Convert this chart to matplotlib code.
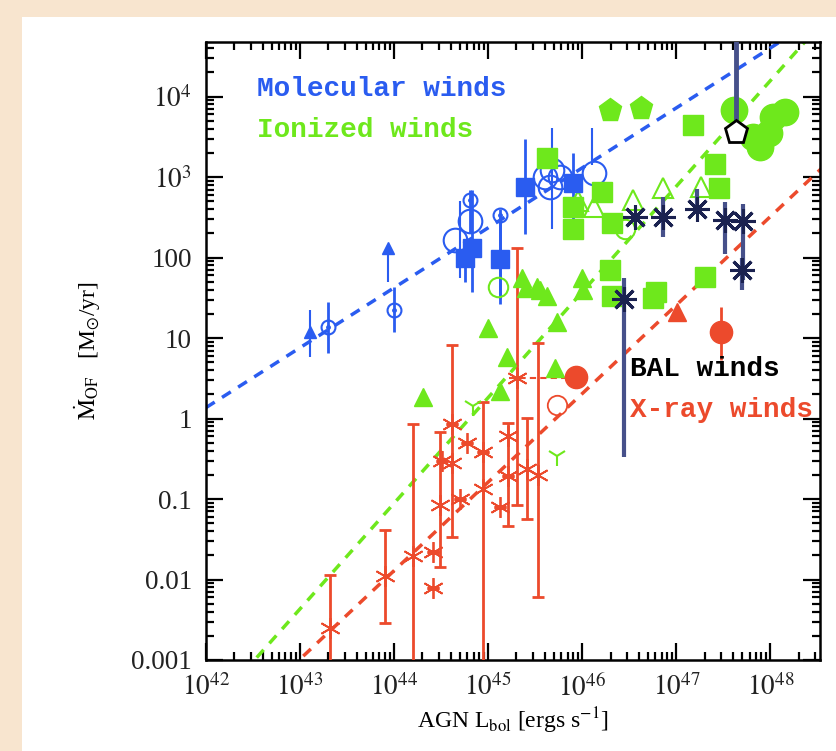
import numpy as np
import matplotlib
matplotlib.use("Agg")
import matplotlib.pyplot as plt
from matplotlib.patches import Rectangle

plt.rcParams['mathtext.fontset'] = 'stix'
plt.rcParams['font.family'] = ['Liberation Serif', 'DejaVu Serif']

BLUE = '#2a5cf0'
GREEN = '#6ee81c'
RED = '#ec4a2c'
NAVY = '#1b2250'
NAVY_BAR = '#46508a'

# ---- data (log10 L_bol, log10 Mdot) ----
# molecular winds
mol_sq_x = [44.83, 45.13, 45.39, 45.90, 44.75]
mol_sq_y = [2.12, 1.98, 2.88, 2.93, 2.0]
mol_sq_lo = [1.57, 1.42, 2.29, 2.39, 1.7]
mol_sq_hi = [2.84, 2.51, 3.47, 3.30, 2.2]
mol_dot_x = [43.30, 44.00, 44.81, 45.13]
mol_dot_y = [1.14, 1.35, 2.72, 2.53]
mol_dot_lo = [0.82, 1.08, 2.30, 1.50]
mol_dot_hi = [1.45, 1.64, 2.84, 2.60]
mol_tri_x = [43.11, 43.94]
mol_tri_y = [1.07, 2.12]
mol_tri_lo = [0.77, 1.70]
mol_tri_hi = [1.35, 2.12]
mol_ring_x = [44.65, 44.81, 45.60, 45.68, 45.76, 45.66, 46.12]
mol_ring_y = [2.22, 2.45, 3.00, 3.09, 3.00, 2.88, 3.05]
mol_bar_x = [45.68, 46.10, 44.70]
mol_bar_lo = [2.35, 3.15, 1.75]
mol_bar_hi = [3.61, 3.61, 2.70]

# ionized winds
ion_pent_x = [46.30, 46.62]
ion_pent_y = [3.84, 3.86]
ion_circ_x = [47.61, 47.82, 48.03, 47.89, 48.16, 47.98]
ion_circ_y = [3.84, 3.50, 3.75, 3.38, 3.81, 3.55]
ion_sq_x = [47.18, 47.41, 47.45, 45.63, 45.90, 45.90, 46.21, 46.32, 46.30, 46.32, 46.78, 47.31, 46.75]
ion_sq_y = [3.65, 3.16, 2.87, 3.24, 2.63, 2.35, 2.82, 2.43, 1.85, 1.52, 1.57, 1.76, 1.50]
ion_tri_x = [44.31, 45.00, 45.20, 45.13, 45.71, 45.36, 45.52, 45.63, 45.73, 46.00, 46.01, 45.55, 45.40]
ion_tri_y = [0.27, 1.13, 0.77, 0.34, 0.63, 1.75, 1.64, 1.52, 1.20, 1.75, 1.60, 1.60, 1.62]
ion_otri_x = [46.12, 46.54, 46.86, 47.26, 45.95]
ion_otri_y = [2.63, 2.72, 2.87, 2.88, 2.70]
ion_y_x = [44.84, 45.73]
ion_y_y = [0.15, -0.47]
ion_ring_x = [45.10, 46.45]
ion_ring_y = [1.63, 2.35]

# X-ray winds
xr_x = [43.32, 43.90, 44.20, 44.41, 44.41, 44.49, 44.51, 44.62, 44.62, 44.70,
        44.94, 44.95, 45.13, 45.21, 45.21, 45.31, 45.41, 45.53, 44.78]
xr_y = [-2.60, -1.96, -1.71, -1.66, -2.10, -1.07, -0.53, -0.55, -0.07, -1.00,
        -0.88, -0.42, -1.10, -0.22, -0.72, 0.50, -0.63, -0.70, -0.30]
xr_lo = [-3.10, -2.54, -3.10, -1.66, -2.10, -1.84, -0.53, -1.47, -0.07, -1.00,
         -3.10, -0.42, -1.10, -1.34, -0.72, -1.07, -1.25, -2.22, -0.30]
xr_hi = [-1.95, -1.38, -0.07, -1.66, -2.10, -0.17, -0.53, 0.92, -0.07, -1.00,
         0.21, -0.42, -1.10, -0.05, -0.72, 2.12, 0.01, 0.94, -0.30]
xr_circ_x = [47.47, 45.93]
xr_circ_y = [1.08, 0.52]
xr_circ_lo = [0.73, 0.52]
xr_circ_hi = [1.39, 0.52]
xr_tri_x = [47.01]
xr_tri_y = [1.33]
xr_ring_x = [45.73]
xr_ring_y = [0.17]

# BAL winds
bal_x = [46.56, 46.86, 47.22, 47.52, 47.71, 47.70, 46.44]
bal_y = [2.50, 2.50, 2.60, 2.47, 2.45, 1.85, 1.48]
bal_lo = [2.50, 2.25, 2.60, 2.04, 1.72, 1.60, -0.48]
bal_hi = [2.50, 2.75, 2.85, 2.69, 2.66, 2.00, 1.75]
bal_pent_x = [47.63]
bal_pent_y = [3.56]
bal_pent_hi = [4.80]

# best-fit relations: log Mdot = a + b * (log L - 45)
fit_a = [2.37, 0.26, -0.79]
fit_b = [0.745, 1.313, 1.10]
fit_col = [BLUE, GREEN, RED]

xticks = [42, 43, 44, 45, 46, 47, 48]
yticks = [-3, -2, -1, 0, 1, 2, 3, 4]
ytick_labels = ['0.001', '0.01', '0.1', '1', '10', '100', r'$10^3$', r'$10^4$']

p = lambda v: 10 ** np.asarray(v, dtype=float)

fig = plt.figure(figsize=(8.37, 7.51), dpi=100, facecolor='#f8e5cf')
fig.patches.append(Rectangle((0.0263, 0), 1, 0.977, transform=fig.transFigure,
                             facecolor='white', edgecolor='none', zorder=-10))
ax = fig.add_axes([0.246, 0.1212, 0.734, 0.823])
ax.set_zorder(5)
ax.set_xscale('log')
ax.set_yscale('log')
ax.set_xlim(1e42, 10 ** 48.53)
ax.set_ylim(1e-3, 10 ** 4.68)

# fit lines
xx = np.linspace(42, 48.6, 50)
for a, b, c in zip(fit_a, fit_b, fit_col):
    ax.plot(p(xx), p(a + b * (xx - 45)), ls=(0, (3, 2.5)), color=c, lw=2.5, zorder=2)

# molecular
ax.vlines(p(mol_bar_x), p(mol_bar_lo), p(mol_bar_hi), color=BLUE, lw=1.5, zorder=3)
ax.vlines(p(mol_sq_x), p(mol_sq_lo), p(mol_sq_hi), color=BLUE, lw=2, zorder=3)
ax.vlines(p(mol_dot_x), p(mol_dot_lo), p(mol_dot_hi), color=BLUE, lw=2, zorder=3)
ax.vlines(p(mol_tri_x), p(mol_tri_lo), p(mol_tri_hi), color=BLUE, lw=1.5, zorder=3)
ax.plot(p(mol_ring_x), p(mol_ring_y), 'o', ms=17, mfc='none', mec=BLUE, mew=1.5, ls='none', zorder=4)
ax.plot(p(mol_sq_x), p(mol_sq_y), 's', ms=13, color=BLUE, ls='none', zorder=5)
ax.plot(p(mol_dot_x), p(mol_dot_y), 'o', ms=10, mfc='none', mec=BLUE, mew=1.5, ls='none', zorder=5)
ax.plot(p(mol_dot_x), p(mol_dot_y), '.', ms=5, color=BLUE, ls='none', zorder=5)
ax.plot(p(mol_tri_x), p(mol_tri_y), '^', ms=9, color=BLUE, ls='none', zorder=5)

# ionized
ax.plot(p(ion_circ_x), p(ion_circ_y), 'o', ms=19, color=GREEN, ls='none', zorder=4)
ax.plot(p(ion_pent_x), p(ion_pent_y), 'p', ms=17, color=GREEN, ls='none', zorder=4)
ax.plot(p(ion_sq_x), p(ion_sq_y), 's', ms=14, color=GREEN, ls='none', zorder=4)
ax.plot(p(ion_tri_x), p(ion_tri_y), '^', ms=13, color=GREEN, ls='none', zorder=4)
ax.plot(p(ion_otri_x), p(ion_otri_y), '^', ms=15, mfc='none', mec=GREEN, mew=1.5, ls='none', zorder=4)
ax.plot(p(ion_y_x), p(ion_y_y), '1', ms=14, color=GREEN, mew=1.5, ls='none', zorder=4)
ax.plot(p(ion_ring_x), p(ion_ring_y), 'o', ms=14, mfc='none', mec=GREEN, mew=1.5, ls='none', zorder=4)

# X-ray
ax.vlines(p(xr_x), p(xr_lo), p(xr_hi), color=RED, lw=2, zorder=3)
ax.plot(p(xr_x), p(xr_lo), '_', ms=8, color=RED, mew=2, ls='none', zorder=3)
ax.plot(p(xr_x), p(xr_hi), '_', ms=8, color=RED, mew=2, ls='none', zorder=3)
ax.plot(p(xr_x), p(xr_y), marker=(6, 2, 0), ms=15, color=RED, mew=1.3, ls='none', zorder=4)
ax.hlines(p([0.50]), p([45.22]), p([45.86]), color=RED, lw=1.5, ls=(0, (3, 2)), zorder=3)
ax.vlines(p(xr_circ_x), p(xr_circ_lo), p(xr_circ_hi), color=RED, lw=2, zorder=3)
ax.plot(p(xr_circ_x), p(xr_circ_y), 'o', ms=16, color=RED, ls='none', zorder=4)
ax.plot(p(xr_tri_x), p(xr_tri_y), '^', ms=13, color=RED, ls='none', zorder=4)
ax.plot(p(xr_ring_x), p(xr_ring_y), 'o', ms=14, mfc='none', mec=RED, mew=1.3, ls='none', zorder=4)

# BAL
ax.vlines(p(bal_x), p(bal_lo), p(bal_hi), color=NAVY_BAR, lw=3, zorder=5)
ax.vlines(p(bal_pent_x), p(bal_pent_y), p(bal_pent_hi), color=NAVY_BAR, lw=3.5, zorder=5)
ax.plot(p(bal_x), p(bal_y), marker=(8, 2, 0), ms=18, color=NAVY, mew=2.2, ls='none', zorder=6)
ax.plot(p(bal_pent_x), p(bal_pent_y), 'p', ms=17, mfc='white', mec='black', mew=2, ls='none', zorder=6)

# labels inside the plot
lab = dict(family='Liberation Mono', fontweight='bold', fontsize=20, va='center', ha='left')
ax.text(p(42.54), p(4.09), 'Molecular winds', color=BLUE, **lab)
ax.text(p(42.54), p(3.59), 'Ionized winds', color=GREEN, **lab)
ax.text(p(46.51), p(0.61), 'BAL winds', color='black', **lab)
ax.text(p(46.51), p(0.11), 'X-ray winds', color=RED, **lab)

ax.set_xticks(p(xticks))
ax.set_xticklabels([r'$10^{%d}$' % t for t in xticks])
ax.set_yticks(p(yticks))
ax.set_yticklabels(ytick_labels)
ax.tick_params(which='both', direction='in', top=True, right=True, labelsize=19.5,
               width=1.6, pad=10, labelcolor='#222222')
ax.tick_params(which='major', length=12)
ax.tick_params(which='minor', length=6)
for s in ax.spines.values():
    s.set_linewidth(1.8)

ax.set_xlabel(r'AGN L$_{\rm bol}$ [ergs s$^{-1}$]', fontsize=17, labelpad=3)
ax.set_ylabel(r'$\dot{\rm M}_{\rm OF}$   [M$_{\odot}$/yr]', fontsize=17, labelpad=20)

fig.savefig('out.png', dpi=100, facecolor=fig.get_facecolor())
